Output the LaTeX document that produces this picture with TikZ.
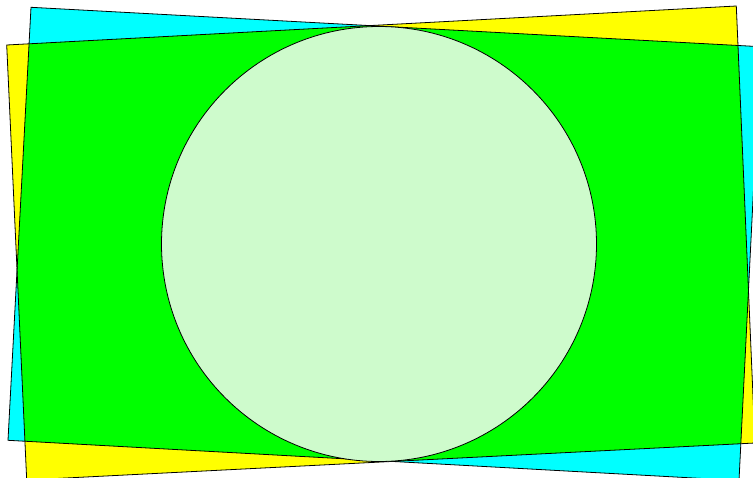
\documentclass[tikz,border=0pt]{standalone}
\begin{document}
\begin{tikzpicture}[x=1pt,y=-1pt,
  outline/.style={draw=black,line width=0.8pt},
  cyanfill/.style={fill={rgb,255:red,0;green,255;blue,255}},
  yellowfill/.style={fill={rgb,255:red,255;green,255;blue,0}},
  greenfill/.style={fill={rgb,255:red,0;green,255;blue,0}},
  discfill/.style={fill={rgb,255:red,206;green,251;blue,204}}]
\path[use as bounding box] (0,0) rectangle (753,477);
\clip (0,0) rectangle (753,477);
% cyan quadrilateral corners
\coordinate (ctl) at (31,7.3);
\coordinate (ctr) at (760.6,46.7);
\coordinate (cbr) at (739,480.5);
\coordinate (cbl) at (8,440.3);
% yellow quadrilateral corners
\coordinate (ytl) at (6.7,45);
\coordinate (ytr) at (736.3,6);
\coordinate (ybr) at (755,443);
\coordinate (ybl) at (26.7,480);
\coordinate (cc) at (379,244);
\path[cyanfill] (ctl) -- (ctr) -- (cbr) -- (cbl) -- cycle;
\path[yellowfill] (ytl) -- (ytr) -- (ybr) -- (ybl) -- cycle;
\begin{scope}
  \clip (ctl) -- (ctr) -- (cbr) -- (cbl) -- cycle;
  \path[greenfill] (ytl) -- (ytr) -- (ybr) -- (ybl) -- cycle;
\end{scope}
\path[outline] (ctl) -- (ctr) -- (cbr) -- (cbl) -- cycle;
\path[outline] (ytl) -- (ytr) -- (ybr) -- (ybl) -- cycle;
\path[outline,discfill] (cc) circle[radius=217.5];
\end{tikzpicture}
\end{document}
